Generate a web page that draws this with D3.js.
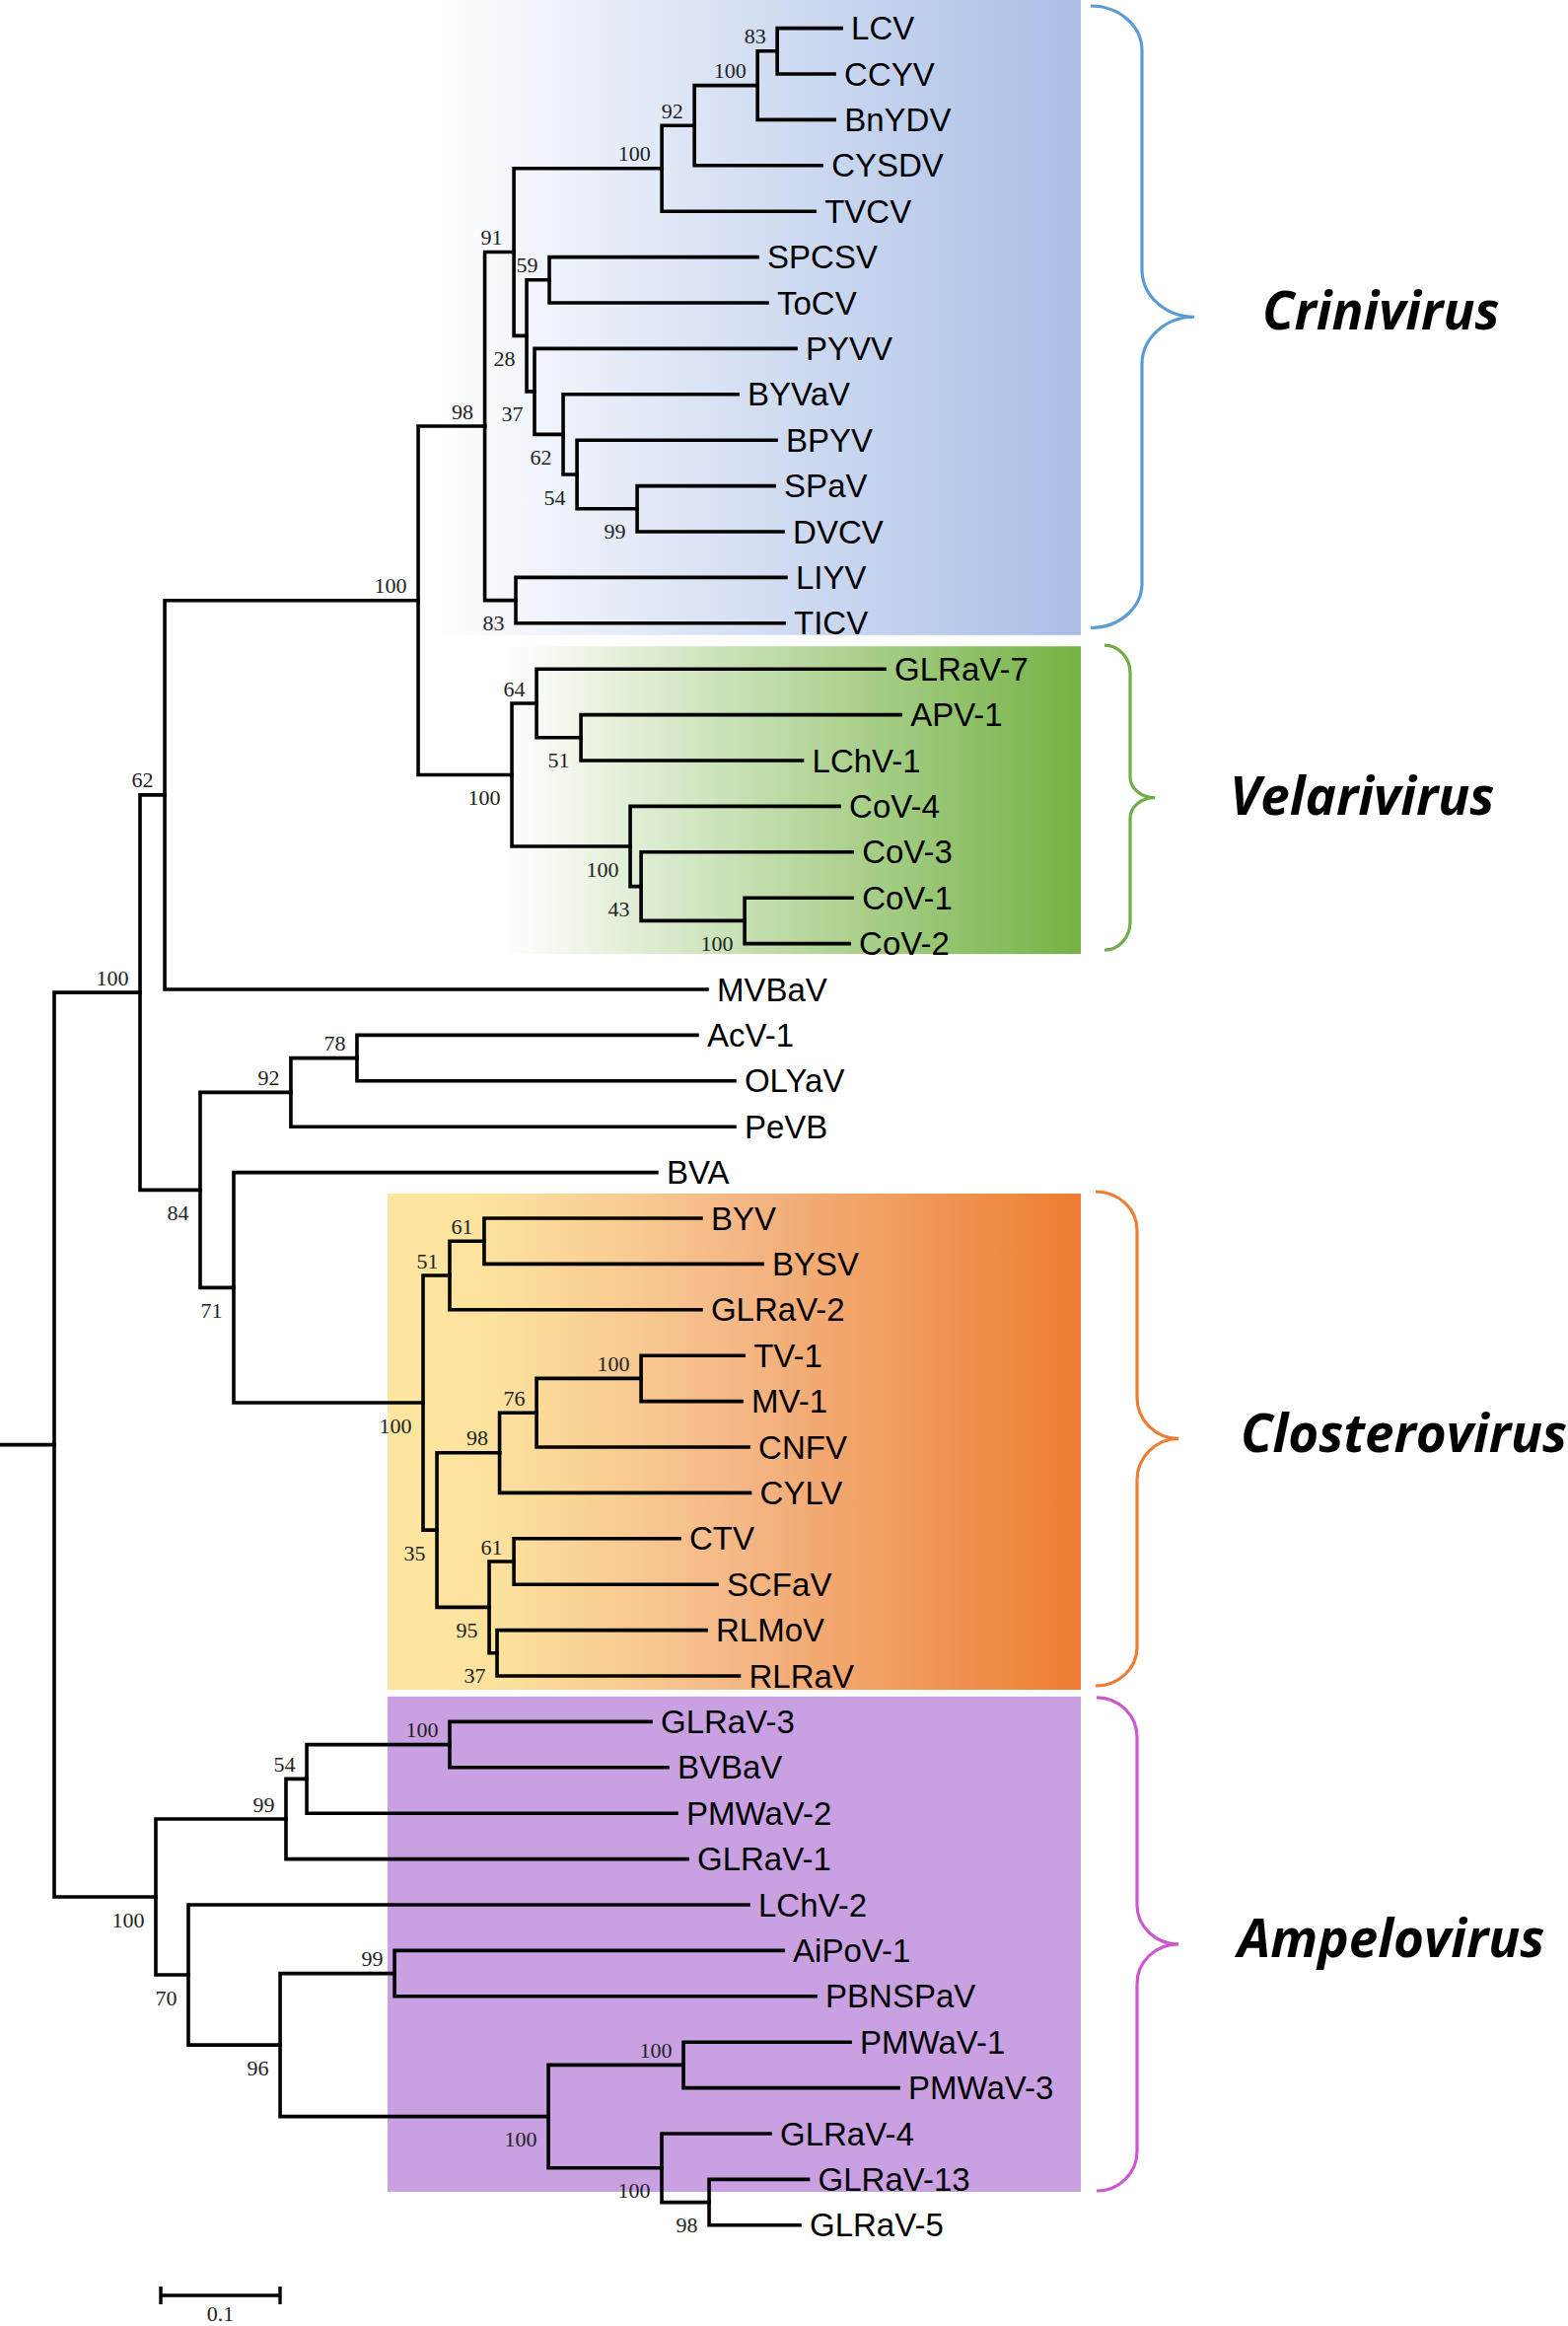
<!DOCTYPE html>
<html><head><meta charset="utf-8">
<script src="https://cdn.jsdelivr.net/npm/d3@7"></script>
<style>body{margin:0;background:#fff} svg{display:block}</style>
</head><body>
<svg id="chart" width="1590" height="2358"></svg>
<script>
// ---------------- DATA ----------------
// leaf (tip) order, top to bottom
const leafOrder = ["LCV","CCYV","BnYDV","CYSDV","TVCV","SPCSV","ToCV","PYVV","BYVaV","BPYV","SPaV","DVCV","LIYV","TICV",
  "GLRaV-7","APV-1","LChV-1","CoV-4","CoV-3","CoV-1","CoV-2","MVBaV","AcV-1","OLYaV","PeVB","BVA",
  "BYV","BYSV","GLRaV-2","TV-1","MV-1","CNFV","CYLV","CTV","SCFaV","RLMoV","RLRaV",
  "GLRaV-3","BVBaV","PMWaV-2","GLRaV-1","LChV-2","AiPoV-1","PBNSPaV","PMWaV-1","PMWaV-3","GLRaV-4","GLRaV-13","GLRaV-5"];

// edges: [node, parent, branch length (subst./site), bootstrap]; upper child listed first
const backboneEdges = [
  ["root", null, 0, null],
  ["n_all1", "root", 0.0719, 100],
  ["n_amp", "root", 0.0851, 100],
  ["n_cvm", "n_all1", 0.0207, 62],
  ["n_w", "n_all1", 0.0504, 84],
  ["n_cv", "n_cvm", 0.2124, 100],
  ["MVBaV", "n_cvm", 0.4545, null],
  ["n_cri", "n_cv", 0.0558, 98],
  ["n_vel", "n_cv", 0.0785, 100]
];
const criniEdges = [
  ["c_e", "n_cri", 0.0244, 91],
  ["c_p", "n_cri", 0.0260, 83],
  ["c_f", "c_e", 0.1240, 100],
  ["c_j", "c_e", 0.0107, 28],
  ["c_g", "c_f", 0.0273, 92],
  ["TVCV", "c_f", 0.1281, null],
  ["c_h", "c_g", 0.0529, 100],
  ["CYSDV", "c_g", 0.1066, null],
  ["c_i", "c_h", 0.0165, 83],
  ["BnYDV", "c_h", 0.0645, null],
  ["LCV", "c_i", 0.0537, null],
  ["CCYV", "c_i", 0.0479, null],
  ["c_k", "c_j", 0.0190, 59],
  ["c_l", "c_j", 0.0066, 37],
  ["SPCSV", "c_k", 0.1744, null],
  ["ToCV", "c_k", 0.1826, null],
  ["PYVV", "c_l", 0.2190, null],
  ["c_m", "c_l", 0.0240, 62],
  ["BYVaV", "c_m", 0.1463, null],
  ["c_n", "c_m", 0.0116, 54],
  ["BPYV", "c_n", 0.1669, null],
  ["c_o", "c_n", 0.0504, 99],
  ["SPaV", "c_o", 0.1149, null],
  ["DVCV", "c_o", 0.1223, null],
  ["LIYV", "c_p", 0.2264, null],
  ["TICV", "c_p", 0.2248, null]
];
const velariEdges = [
  ["v_r", "n_vel", 0.0207, 64],
  ["v_t", "n_vel", 0.0992, 100],
  ["GLRaV-7", "v_r", 0.2917, null],
  ["v_s", "v_r", 0.0372, 51],
  ["APV-1", "v_s", 0.2678, null],
  ["LChV-1", "v_s", 0.1855, null],
  ["CoV-4", "v_t", 0.1752, null],
  ["v_u", "v_t", 0.0091, 43],
  ["CoV-3", "v_u", 0.1769, null],
  ["v_v", "v_u", 0.0868, 100],
  ["CoV-1", "v_v", 0.0901, null],
  ["CoV-2", "v_v", 0.0876, null]
];
const otherEdges = [
  ["o_x", "n_w", 0.0760, 92],
  ["o_z", "n_w", 0.0281, 71],
  ["o_y", "o_x", 0.0554, 78],
  ["PeVB", "o_x", 0.3719, null],
  ["AcV-1", "o_y", 0.2851, null],
  ["OLYaV", "o_y", 0.3165, null],
  ["BVA", "o_z", 0.3545, null],
  ["n_clo", "o_z", 0.1587, 100]
];
const closteroEdges = [
  ["k_a", "n_clo", 0.0223, 51],
  ["k_c", "n_clo", 0.0116, 35],
  ["k_b", "k_a", 0.0289, 61],
  ["GLRaV-2", "k_a", 0.2107, null],
  ["BYV", "k_b", 0.1818, null],
  ["BYSV", "k_b", 0.2331, null],
  ["k_d", "k_c", 0.0525, 98],
  ["k_g", "k_c", 0.0438, 95],
  ["k_e", "k_d", 0.0310, 76],
  ["CYLV", "k_d", 0.2099, null],
  ["k_f", "k_e", 0.0876, 100],
  ["CNFV", "k_e", 0.1777, null],
  ["TV-1", "k_f", 0.0860, null],
  ["MV-1", "k_f", 0.0843, null],
  ["k_h", "k_g", 0.0207, 61],
  ["k_i", "k_g", 0.0066, 37],
  ["CTV", "k_h", 0.1388, null],
  ["SCFaV", "k_h", 0.1702, null],
  ["RLMoV", "k_i", 0.1752, null],
  ["RLRaV", "k_i", 0.2029, null]
];
const ampeloEdges = [
  ["a_j", "n_amp", 0.1091, 99],
  ["a_m", "n_amp", 0.0273, 70],
  ["a_k", "a_j", 0.0174, 54],
  ["GLRaV-1", "a_j", 0.3364, null],
  ["a_l", "a_k", 0.1198, 100],
  ["PMWaV-2", "a_k", 0.3099, null],
  ["GLRaV-3", "a_l", 0.1686, null],
  ["BVBaV", "a_l", 0.1826, null],
  ["LChV-2", "a_m", 0.4694, null],
  ["a_n", "a_m", 0.0769, 96],
  ["a_o", "a_n", 0.0959, 99],
  ["a_p", "a_n", 0.2248, 100],
  ["AiPoV-1", "a_o", 0.3256, null],
  ["PBNSPaV", "a_o", 0.3529, null],
  ["a_q", "a_p", 0.1132, 100],
  ["a_r", "a_p", 0.0950, 100],
  ["PMWaV-1", "a_q", 0.1397, null],
  ["PMWaV-3", "a_q", 0.1802, null],
  ["GLRaV-4", "a_r", 0.0909, null],
  ["a_s", "a_r", 0.0397, 98],
  ["GLRaV-13", "a_s", 0.0831, null],
  ["GLRaV-5", "a_s", 0.0760, null]
];

const cladeNames = ["Crinivirus", "Velarivirus", "Closterovirus", "Ampelovirus"];
const cladeFirstLeaf = ["LCV", "GLRaV-7", "BYV", "GLRaV-3"];
const cladeLastLeaf = ["TICV", "CoV-2", "RLRaV", "GLRaV-13"];
const scaleBarValue = 0.1;
const scaleBarLabel = "0.1";

// ---------------- STYLE ----------------
const cladeStyle = [
  {x0: 436, x1: 1096, padTop: 29, padBot: 12, stops: [[0, "#ffffff"], [1, "#a9bee6"]],
   brace: {xe: 1106, xv: 1158, xt: 1211, dt: 6, db: -7.3, r: 45, rm: 48}, color: "#5b9bd5",
   label: {x: 1280, dy: 13}},
  {x0: 507, x1: 1096, padTop: 23, padBot: 10.5, stops: [[0, "#ffffff"], [0.08, "#f6faf2"], [1, "#74b244"]],
   brace: {xe: 1120, xv: 1146, xt: 1171, dt: -1, db: -4, r: 28, rm: 21}, color: "#70ad47",
   label: {x: 1247, dy: 17}},
  {x0: 393, x1: 1096, padTop: 25, padBot: 14, stops: [[0, "#fee6a0"], [0.15, "#fde29e"], [0.5, "#f4b887"], [1, "#ed7d31"]],
   brace: {xe: 1111, xv: 1153, xt: 1195, dt: -2, db: -4, r: 39, rm: 42}, color: "#ed7d31",
   label: {x: 1258, dy: 13}},
  {x0: 393, x1: 1096, padTop: 25.5, padBot: 12.6, stops: [[0, "#c9a0e1"], [1, "#c9a0e1"]],
   brace: {xe: 1112, xv: 1153, xt: 1195, dt: 1, db: -1, r: 40, rm: 40}, color: "#cc58cf",
   label: {x: 1255, dy: 13}}
];

// ---------------- BUILD ----------------
const svg = d3.select("#chart");
const edges = [].concat(backboneEdges, criniEdges, velariEdges, otherEdges, closteroEdges, ampeloEdges);
const root = d3.stratify().id(d => d[0]).parentId(d => d[1])(edges);

const xScale = d3.scaleLinear().domain([0, 0.1]).range([55, 176]);
const yScale = d3.scaleLinear().domain([0, leafOrder.length - 1]).range([28.6, 2255.8]);

root.eachBefore(n => { n.len = n.parent ? n.parent.len + n.data[2] : 0; n.x = xScale(n.len); });
root.eachAfter(n => {
  if (n.children) n.y = (n.children[0].y + n.children[n.children.length - 1].y) / 2;
  else n.y = yScale(leafOrder.indexOf(n.id));
});
const leafY = name => yScale(leafOrder.indexOf(name));

// gradients & clade boxes
const defs = svg.append("defs");
cladeStyle.forEach((s, i) => {
  const g = defs.append("linearGradient").attr("id", "grad" + i)
    .attr("x1", "0%").attr("x2", "100%").attr("y1", "0%").attr("y2", "0%");
  s.stops.forEach(st => g.append("stop").attr("offset", st[0]).attr("stop-color", st[1]));
});
const boxG = svg.append("g");
cladeNames.forEach((name, i) => {
  const s = cladeStyle[i];
  const top = Math.max(0, leafY(cladeFirstLeaf[i]) - s.padTop);
  const bot = leafY(cladeLastLeaf[i]) + s.padBot;
  boxG.append("rect").attr("x", s.x0).attr("y", top).attr("width", s.x1 - s.x0).attr("height", bot - top)
    .attr("fill", `url(#grad${i})`);
});

// tree branches
const treeG = svg.append("g");
treeG.append("path").attr("d", `M0,${root.y}H${root.x}`)
  .attr("stroke", "#000").attr("stroke-width", 3.6).attr("fill", "none");
treeG.selectAll("path.link").data(root.descendants().filter(d => d.parent)).join("path")
  .attr("class", "link")
  .attr("d", d => `M${d.parent.x},${d.parent.y}V${d.y}H${d.x}`)
  .attr("stroke", "#000").attr("stroke-width", 3.6).attr("fill", "none")
  .attr("stroke-linecap", "square");

// leaf labels
treeG.selectAll("text.leaf").data(root.leaves()).join("text")
  .attr("class", "leaf")
  .attr("x", d => d.x + 10).attr("y", d => d.y + 11.5)
  .attr("font-family", "'Liberation Sans', Arial, sans-serif").attr("font-size", 33)
  .attr("fill", "#000").text(d => d.id);

// bootstrap labels
treeG.selectAll("text.bs").data(root.descendants().filter(d => d.parent && d.data[3] != null)).join("text")
  .attr("class", "bs")
  .attr("x", d => d.x - 11.5)
  .attr("y", d => d.parent.children[0] === d ? d.y - 7.5 : d.y + 30.5)
  .attr("text-anchor", "end")
  .attr("font-family", "'Liberation Serif', 'Times New Roman', serif").attr("font-size", 22)
  .attr("fill", "#222").text(d => d.data[3]);

// braces and genus labels
const k = 0.552;
cladeNames.forEach((name, i) => {
  const s = cladeStyle[i], b = s.brace;
  const top = Math.max(0, leafY(cladeFirstLeaf[i]) - s.padTop);
  const bot = leafY(cladeLastLeaf[i]) + s.padBot;
  const yt = top + b.dt, yb = bot + b.db, ym = (yt + yb) / 2;
  const r = b.r, rm = b.rm;
  const p = `M${b.xe},${yt}` +
    `C${b.xe + k * (b.xv - b.xe)},${yt} ${b.xv},${yt + r - k * r} ${b.xv},${yt + r}` +
    `L${b.xv},${ym - rm}` +
    `C${b.xv},${ym - rm + k * rm} ${b.xt - k * (b.xt - b.xv)},${ym} ${b.xt},${ym}` +
    `C${b.xt - k * (b.xt - b.xv)},${ym} ${b.xv},${ym + rm - k * rm} ${b.xv},${ym + rm}` +
    `L${b.xv},${yb - r}` +
    `C${b.xv},${yb - r + k * r} ${b.xe + k * (b.xv - b.xe)},${yb} ${b.xe},${yb}`;
  svg.append("path").attr("d", p).attr("fill", "none").attr("stroke", s.color).attr("stroke-width", 3.2);
  svg.append("text").attr("x", s.label.x).attr("y", ym + s.label.dy)
    .attr("font-family", "'Open Sans', sans-serif").attr("font-weight", "bold").attr("font-style", "italic")
    .attr("font-size", 53).attr("fill", "#000").text(name);
});

// scale bar
const sbX0 = 163, sbY = 2327;
const sbLen = xScale(scaleBarValue) - xScale(0);
const sb = svg.append("g");
sb.append("path").attr("d", `M${sbX0},${sbY}H${sbX0 + sbLen}M${sbX0},${sbY - 9}V${sbY + 9}M${sbX0 + sbLen},${sbY - 9}V${sbY + 9}`)
  .attr("stroke", "#000").attr("stroke-width", 3.4).attr("fill", "none");
sb.append("text").attr("x", sbX0 + sbLen / 2).attr("y", 2353).attr("text-anchor", "middle")
  .attr("font-family", "'Liberation Serif', 'Times New Roman', serif").attr("font-size", 22)
  .attr("fill", "#222").text(scaleBarLabel);
</script>
</body></html>
